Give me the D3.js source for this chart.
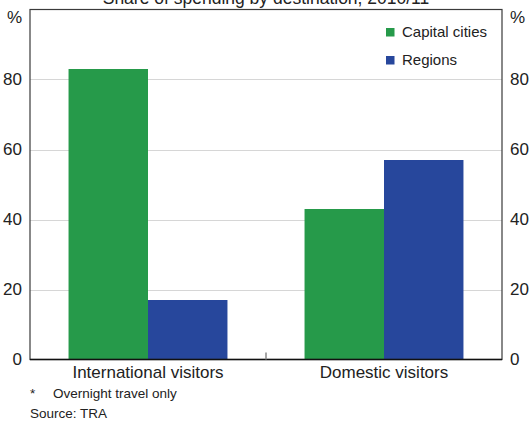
<!DOCTYPE html>
<html><head><meta charset="utf-8">
<script src="https://cdn.jsdelivr.net/npm/d3@7"></script>
<style>body{margin:0;background:#fff}svg{display:block;font-family:Arial,"Liberation Sans",sans-serif}</style>
</head><body><svg id="c" width="529" height="421"></svg>
<script>
const categories = ["International visitors", "Domestic visitors"];
const seriesNames = ["Capital cities", "Regions"];
const capitalCities = [83, 43];
const regions = [17, 57];
const yTicks = [0, 20, 40, 60, 80];
const title = "Share of spending by destination, 2010/11";
const footnote = "Overnight travel only";
const source = "Source: TRA";
const colors = ["#269a4a", "#27479c"];

const svg = d3.select("#c");
const L = 30, R = 502, T = 9.5, B = 359.5;
const x = d3.scaleBand().domain(categories).range([L, R]).paddingInner(0).paddingOuter(0);
const xs = d3.scaleBand().domain(seriesNames).range([0, x.bandwidth()]).paddingInner(0).paddingOuter(0.485);
const y = d3.scaleLinear().domain([0, 100]).range([B, T]);
const txt = "#222";

// gridlines
svg.append("g").selectAll("line").data(yTicks.filter(d => d > 0)).join("line")
  .attr("x1", L).attr("x2", R).attr("y1", d => Math.round(y(d)) + 0.5).attr("y2", d => Math.round(y(d)) + 0.5)
  .attr("stroke", "#d6d6d6").attr("stroke-width", 1.2);

// bars
const data = categories.map((c, i) => ({c, vals: [capitalCities[i], regions[i]]}));
const g = svg.append("g");
data.forEach(d => {
  d.vals.forEach((v, j) => {
    g.append("rect").attr("x", x(d.c) + xs(seriesNames[j])).attr("width", xs.bandwidth())
      .attr("y", y(v)).attr("height", B - y(v)).attr("fill", colors[j]);
  });
});

// frame
svg.append("rect").attr("x", L).attr("y", T).attr("width", R - L).attr("height", B - T)
  .attr("fill", "none").attr("stroke", "#3a3a3a").attr("stroke-width", 1.2);
svg.append("line").attr("x1", L).attr("x2", R).attr("y1", B).attr("y2", B).attr("stroke", "#111").attr("stroke-width", 1.5);
// category separator tick
svg.append("line").attr("x1", x(categories[1])).attr("x2", x(categories[1]))
  .attr("y1", B - 7).attr("y2", B).attr("stroke", "#888").attr("stroke-width", 1.5);

// axes
const yl = d3.axisLeft(y).tickValues(yTicks).tickSize(0).tickPadding(8);
const yr = d3.axisRight(y).tickValues(yTicks).tickSize(0).tickPadding(8);
const gl = svg.append("g").attr("transform", `translate(${L},0)`).call(yl);
const gr = svg.append("g").attr("transform", `translate(${R},0)`).call(yr);
[gl, gr].forEach(a => {
  a.select(".domain").remove();
  a.selectAll("text").attr("font-size", 17).attr("fill", txt).attr("font-family", "Arial, 'Liberation Sans', sans-serif");
});
const xa = d3.axisBottom(x).tickSize(0).tickPadding(6);
const gx = svg.append("g").attr("transform", `translate(0,${B})`).call(xa);
gx.select(".domain").remove();
gx.selectAll("text").attr("font-size", 17).attr("fill", txt).attr("font-family", "Arial, 'Liberation Sans', sans-serif");

// % units
svg.append("text").attr("x", 22).attr("y", 23).attr("text-anchor", "end").attr("font-size", 17).attr("fill", txt).text("%");
svg.append("text").attr("x", 510).attr("y", 23).attr("font-size", 17).attr("fill", txt).text("%");

// title (partly cut at the top edge, as in the reference)
svg.append("text").attr("x", (L + R) / 2).attr("y", 4).attr("text-anchor", "middle").attr("font-size", 17.5).attr("fill", txt).text(title);

// legend
seriesNames.forEach((s, i) => {
  const ly = 36.5 + i * 28;
  svg.append("rect").attr("x", 386).attr("y", ly - 8.5).attr("width", 8.5).attr("height", 8.5).attr("fill", colors[i]);
  svg.append("text").attr("x", 402).attr("y", ly).attr("font-size", 15).attr("fill", txt).text(s);
});

// footnotes
svg.append("text").attr("x", 30).attr("y", 398).attr("font-size", 13.5).attr("fill", txt).text("*");
svg.append("text").attr("x", 53).attr("y", 398).attr("font-size", 13.5).attr("fill", txt).text(footnote);
svg.append("text").attr("x", 30).attr("y", 418).attr("font-size", 13.5).attr("fill", txt).text(source);
</script></body></html>
